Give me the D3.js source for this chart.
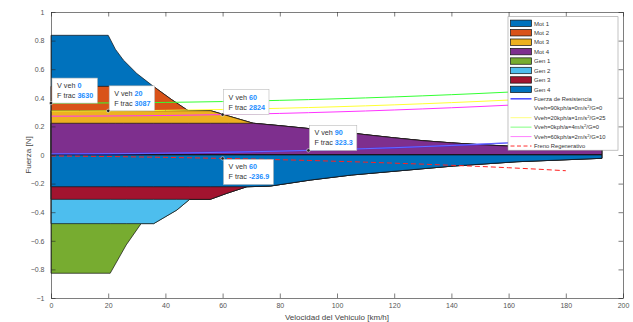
<!DOCTYPE html>
<html>
<head>
<meta charset="utf-8">
<script src="https://cdn.jsdelivr.net/npm/d3@7"></script>
<style>
  body { margin: 0; background: #fff; }
  svg { font-family: "Liberation Sans", Arial, sans-serif; }
</style>
</head>
<body>
<svg width="633" height="322"></svg>
<script>
// traction envelope of the motor (normalised force, 1 = 10000 N)
const motorEnvSpeed = [0, 20, 22.5, 25.3, 30, 35.8, 42, 48, 55.8, 62, 70.7, 80, 90, 100, 110, 120, 130, 140, 150, 160, 170, 180, 192.6];
const motorEnvForce = [0.837, 0.837, 0.74, 0.664, 0.57, 0.48, 0.39, 0.31, 0.31, 0.273, 0.222, 0.205, 0.185, 0.165, 0.142, 0.12, 0.1, 0.085, 0.072, 0.062, 0.054, 0.048, 0.043];
const motorLevels = [0.837, 0.48, 0.31, 0.222];

// regenerative envelope of the generator
const genEnvSpeed = [0, 20.7, 26.3, 31.5, 35.9, 44, 48.5, 55.7, 61.5, 68.5, 76.7, 90.7, 105, 122, 140.7, 162.9, 192.6];
const genEnvForce = [-0.827, -0.827, -0.629, -0.48, -0.48, -0.385, -0.31, -0.31, -0.268, -0.222, -0.217, -0.175, -0.14, -0.11, -0.077, -0.047, -0.023];
const genLevels = [-0.827, -0.48, -0.31, -0.222];

const areaNames = ["Mot 1", "Mot 2", "Mot 3", "Mot 4", "Gen 1", "Gen 2", "Gen 3", "Gen 4"];
const areaColors = ["#0072BD", "#D95319", "#EDB120", "#7E2F8E", "#77AC30", "#4DBEEE", "#A2142F", "#0072BD"];

// load curves
const lineSpeed = [0, 10, 20, 30, 40, 50, 60, 70, 80, 90, 100, 110, 120, 130, 140, 150, 160, 170, 180];
const resistencia = [0.008, 0.0083, 0.0092, 0.0107, 0.0128, 0.0155, 0.0188, 0.0227, 0.0272, 0.0323, 0.038, 0.0443, 0.0512, 0.0587, 0.0668, 0.0755, 0.0848, 0.0947, 0.1052];
const caso90 = [0.008, 0.0083, 0.0092, 0.0107, 0.0128, 0.0155, 0.0188, 0.0227, 0.0272, 0.0323, 0.038, 0.0443, 0.0512, 0.0587, 0.0668, 0.0755, 0.0848, 0.0947, 0.1052];
const caso20 = [0.3075, 0.3078, 0.3087, 0.3102, 0.3123, 0.315, 0.3183, 0.3222, 0.3267, 0.3318, 0.3375, 0.3438, 0.3507, 0.3582, 0.3663, 0.375, 0.3843, 0.3942, 0.4047];
const caso0 = [0.363, 0.3633, 0.3642, 0.3657, 0.3678, 0.3705, 0.3738, 0.3777, 0.3822, 0.3873, 0.393, 0.3993, 0.4062, 0.4137, 0.4218, 0.4305, 0.4398, 0.4497, 0.4602];
const caso60 = [0.2716, 0.2719, 0.2728, 0.2743, 0.2764, 0.2791, 0.2824, 0.2863, 0.2908, 0.2959, 0.3016, 0.3079, 0.3148, 0.3223, 0.3304, 0.3391, 0.3484, 0.3583, 0.3688];
const frenoRegen = [-0.007, -0.0085, -0.0105, -0.0135, -0.0165, -0.02, -0.0237, -0.028, -0.033, -0.038, -0.044, -0.05, -0.057, -0.064, -0.072, -0.08, -0.089, -0.099, -0.11];

// legend text for the lines, split round the superscript 2
const lineNames = [
  ["Fuerza de Resistencia"],
  ["Vveh=90kph/a=0m/s", "2", "/G=0"],
  ["Vveh=20kph/a=1m/s", "2", "/G=25"],
  ["Vveh=0kph/a=4m/s", "2", "/G=0"],
  ["Vveh=60kph/a=2m/s", "2", "/G=10"],
  ["Freno Regenerativo"]
];
const lineColors = ["#2b2bff", "#ffffff", "#ffff33", "#33ff33", "#ff33ff", "#ff2020"];
const legendLineColors = ["#3a3aff", "#ffffff", "#ffff80", "#80ff80", "#ff80ff", "#ff3030"];

// data tips
const tipSpeed = [0, 20, 60, 90, 60];
const tipForce = [3630, 3087, 2824, 323.3, -236.9];
const tipLabel = ["0", "20", "60", "90", "60"];
const tipValue = ["3630", "3087", "2824", "323.3", "-236.9"];

const xTicks = [0, 20, 40, 60, 80, 100, 120, 140, 160, 180, 200];
const yTicks = [-1, -0.8, -0.6, -0.4, -0.2, 0, 0.2, 0.4, 0.6, 0.8, 1];

const svg = d3.select("svg");
const mLeft = 51, mRight = 623, mTop = 12, mBottom = 298;
const axisColor = "#262626";

let x = d3.scaleLinear().domain([0, 200]).range([mLeft, mRight]);
let y = d3.scaleLinear().domain([-1, 1]).range([mBottom, mTop]);

let plot = svg.append("g");

// stacked-looking areas, each from 0 to its envelope clipped at its level
function drawAreas(speeds, env, levels, colors, neg) {
  levels.forEach((lev, i) => {
    let pts = speeds.map((v, k) => [v, neg ? Math.max(lev, env[k]) : Math.min(lev, env[k])]);
    let area = d3.area()
      .x(d => x(d[0]))
      .y0(y(0))
      .y1(d => y(d[1]));
    plot.append("path")
      .attr("d", area(pts) + "Z")
      .attr("fill", colors[i])
      .attr("stroke", "#111")
      .attr("stroke-width", 0.7)
      .attr("stroke-linejoin", "miter");
  });
}
drawAreas(motorEnvSpeed, motorEnvForce, motorLevels, areaColors.slice(0, 4), false);
drawAreas(genEnvSpeed, genEnvForce, genLevels, areaColors.slice(4), true);

// lines
let line = d3.line().x(d => x(d[0])).y(d => y(d[1]));
let series = [resistencia, caso90, caso20, caso0, caso60, frenoRegen];
series.forEach((vals, i) => {
  plot.append("path")
    .attr("d", line(lineSpeed.map((v, k) => [v, vals[k]])))
    .attr("fill", "none")
    .attr("stroke", lineColors[i])
    .attr("stroke-width", i === 0 ? 1.4 : (i === 1 ? 0.5 : 1))
    .attr("stroke-opacity", i === 1 ? 0.6 : 1)
    .attr("stroke-dasharray", i === 5 ? "5,3" : null);
});

// axes (MATLAB style box, ticks inside)
let gx = svg.append("g").attr("transform", `translate(0,${mBottom})`)
  .call(d3.axisBottom(x).tickValues(xTicks).tickSizeInner(-4.5).tickSizeOuter(0).tickPadding(5.5));
let gxt = svg.append("g").attr("transform", `translate(0,${mTop})`)
  .call(d3.axisTop(x).tickValues(xTicks).tickSizeInner(-4.5).tickSizeOuter(0).tickFormat(""));
let gy = svg.append("g").attr("transform", `translate(${mLeft},0)`)
  .call(d3.axisLeft(y).tickValues(yTicks).tickSizeInner(-4.5).tickSizeOuter(0).tickPadding(6.5).tickFormat(d => d3.format("")(+d.toFixed(1))));
let gyr = svg.append("g").attr("transform", `translate(${mRight},0)`)
  .call(d3.axisRight(y).tickValues(yTicks).tickSizeInner(-4.5).tickSizeOuter(0).tickFormat(""));

[gx, gxt, gy, gyr].forEach(g => {
  g.selectAll("path").attr("stroke", axisColor).attr("stroke-width", 0.6);
  g.selectAll("line").attr("stroke", axisColor).attr("stroke-width", 0.6);
  g.selectAll("text").attr("fill", "#555").attr("font-size", 7).attr("font-family", "Liberation Sans, Arial, sans-serif");
});

svg.append("text")
  .attr("x", (mLeft + mRight) / 2)
  .attr("y", 319.5)
  .attr("text-anchor", "middle")
  .attr("font-size", 8)
  .attr("fill", "#444")
  .text("Velocidad del Vehiculo [km/h]");

svg.append("text")
  .attr("transform", `translate(31,${y(0)}) rotate(-90)`)
  .attr("text-anchor", "middle")
  .attr("font-size", 8)
  .attr("fill", "#444")
  .text("Fuerza [N]");

// data tips
tipSpeed.forEach((v, i) => {
  let px = x(v), py = y(tipForce[i] / 10000);
  let g = svg.append("g");
  let below = tipForce[i] < 0;
  let bx = px + 1, by = below ? py + 1 : py - 25;
  let rect = g.append("rect")
    .attr("x", bx).attr("y", by)
    .attr("height", 25)
    .attr("fill", "#fff")
    .attr("stroke", "#bbb")
    .attr("stroke-width", 0.6);
  let t1 = g.append("text").attr("x", bx + 5).attr("y", by + 10).attr("font-size", 7.2);
  t1.append("tspan").attr("fill", "#333").text("V veh ");
  t1.append("tspan").attr("fill", "#1a8cff").attr("font-weight", "bold").text(tipLabel[i]);
  let t2 = g.append("text").attr("x", bx + 5).attr("y", by + 20).attr("font-size", 7.2);
  t2.append("tspan").attr("fill", "#333").text("F trac ");
  t2.append("tspan").attr("fill", "#1a8cff").attr("font-weight", "bold").text(tipValue[i]);
  let w = Math.max(t1.node().getComputedTextLength(), t2.node().getComputedTextLength()) + 9;
  rect.attr("width", Math.max(w, 44));
  g.append("circle")
    .attr("cx", px).attr("cy", py).attr("r", 1.7)
    .attr("fill", "#222")
    .attr("stroke", "#fff")
    .attr("stroke-width", 0.5);
});

// legend
let lg = svg.append("g");
lg.append("rect")
  .attr("x", 508).attr("y", 16.7)
  .attr("width", 110).attr("height", 133.5)
  .attr("fill", "#fff")
  .attr("stroke", "#999")
  .attr("stroke-width", 0.6);
let rowH = 9.44, row0 = 23.3;
areaNames.forEach((name, i) => {
  let cy = row0 + i * rowH;
  lg.append("rect")
    .attr("x", 510.5).attr("y", cy - 3.2)
    .attr("width", 21).attr("height", 6.4)
    .attr("fill", areaColors[i])
    .attr("stroke", "#111")
    .attr("stroke-width", 0.7);
  lg.append("text")
    .attr("x", 534).attr("y", cy + 2.2)
    .attr("font-size", 6)
    .attr("fill", "#333")
    .text(name);
});
lineNames.forEach((parts, i) => {
  let cy = row0 + (i + 8) * rowH;
  lg.append("line")
    .attr("x1", 510.5).attr("x2", 531.5)
    .attr("y1", cy).attr("y2", cy)
    .attr("stroke", legendLineColors[i])
    .attr("stroke-width", i === 0 ? 1.4 : 1)
    .attr("stroke-dasharray", i === 5 ? "4,2.5" : null);
  let t = lg.append("text")
    .attr("x", 534).attr("y", cy + 2.2)
    .attr("font-size", 5.8)
    .attr("fill", "#333");
  t.append("tspan").text(parts[0]);
  if (parts.length > 1) {
    t.append("tspan").attr("dy", -2.2).attr("font-size", 4.2).text(parts[1]);
    t.append("tspan").attr("dy", 2.2).text(parts[2]);
  }
});
</script>
</body>
</html>
